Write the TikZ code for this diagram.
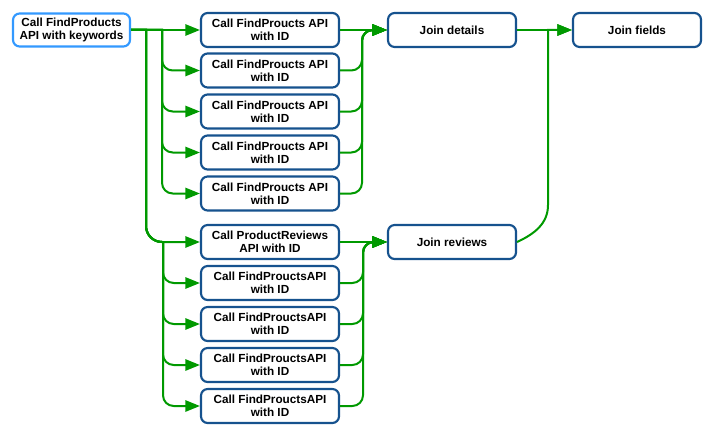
\documentclass[tikz,border=0pt]{standalone}
\usepackage{fontspec}
\setmainfont{Liberation Sans}
\usepackage{tikz}
\usetikzlibrary{arrows.meta}
\definecolor{boxblue}{RGB}{22,82,142}
\definecolor{srcblue}{RGB}{51,153,255}
\definecolor{flowgreen}{RGB}{0,153,0}
\tikzstyle{box}=[draw=boxblue,line width=1.6pt,fill=white,rounded corners=5pt,align=center,minimum width=103.5pt,minimum height=25.5pt,inner sep=1pt,font=\bfseries\fontsize{8.8}{9.75}\selectfont]
\tikzstyle{srcbox}=[box,draw=srcblue,minimum width=87.75pt,minimum height=24.75pt]
\tikzstyle{joinbox}=[box,minimum width=96pt]
\tikzstyle{flow}=[draw=flowgreen,line width=1.5pt,-{Triangle[length=11pt,width=8.5pt]}]
\tikzstyle{curvy}=[rounded corners=8pt]

\begin{document}
\begin{tikzpicture}[x=0.75pt,y=-0.75pt]  % pixel grid, y down

\useasboundingbox (0,0) rectangle (713,435);

\node[srcbox] (src) at (71.5,30) {Call FindProducts\\API with keywords};

\node[box] (c1) at (270,30) {Call FindProucts API\\with ID};
\node[box] (c2) at (270,70.5) {Call FindProucts API\\with ID};
\node[box] (c3) at (270,111.5) {Call FindProucts API\\with ID};
\node[box] (c4) at (270,152.5) {Call FindProucts API\\with ID};
\node[box] (c5) at (270,193.5) {Call FindProucts API\\with ID};

\node[box] (c6) at (270,242) {Call ProductReviews\\API with ID};
\node[box] (c7) at (270,283) {Call FindProuctsAPI\\with ID};
\node[box] (c8) at (270,324) {Call FindProuctsAPI\\with ID};
\node[box] (c9) at (270,365) {Call FindProuctsAPI\\with ID};
\node[box] (c10) at (270,406) {Call FindProuctsAPI\\with ID};

\node[joinbox] (jd) at (452,30) {Join details};
\node[joinbox] (jr) at (452,242) {Join reviews};
\node[joinbox] (jf) at (637,30) {Join fields};

% bus lines
\coordinate (busU) at (162,0);
\coordinate (busL) at (146,0);
\coordinate (busD) at (163,0);
\coordinate (busUR) at (362,0);
\coordinate (busLR) at (363,0);
\coordinate (bendF) at (548,205);

% fan out, details
\draw[flow] (src.east) to (c1.west);
\draw[flow] (src.east) to (src.east -| busU) [curvy] |- (c2.west);
\draw[flow] (src.east) to (src.east -| busU) [curvy] |- (c3.west);
\draw[flow] (src.east) to (src.east -| busU) [curvy] |- (c4.west);
\draw[flow] (src.east) to (src.east -| busU) [curvy] |- (c5.west);

% fan out, reviews
\draw[flow] (src.east) to (src.east -| busL) [rounded corners=12pt] |- (c6.west);
\draw[flow] (src.east) to (src.east -| busL) [rounded corners=12pt] to (busL |- c6.west) [sharp corners] to (busD |- c6.west) [curvy] |- (c7.west);
\draw[flow] (src.east) to (src.east -| busL) [rounded corners=12pt] to (busL |- c6.west) [sharp corners] to (busD |- c6.west) [curvy] |- (c8.west);
\draw[flow] (src.east) to (src.east -| busL) [rounded corners=12pt] to (busL |- c6.west) [sharp corners] to (busD |- c6.west) [curvy] |- (c9.west);
\draw[flow] (src.east) to (src.east -| busL) [rounded corners=12pt] to (busL |- c6.west) [sharp corners] to (busD |- c6.west) [curvy] |- (c10.west);

% fan in
\draw[flow] (c1.east) to (jd.west);
\draw[flow,curvy] (c2.east) -| (busUR |- jd.west) to (jd.west);
\draw[flow,curvy] (c3.east) -| (busUR |- jd.west) to (jd.west);
\draw[flow,curvy] (c4.east) -| (busUR |- jd.west) to (jd.west);
\draw[flow,curvy] (c5.east) -| (busUR |- jd.west) to (jd.west);

\draw[flow] (c6.east) to (jr.west);
\draw[flow,curvy] (c7.east) -| (busLR |- jr.west) to (jr.west);
\draw[flow,curvy] (c8.east) -| (busLR |- jr.west) to (jr.west);
\draw[flow,curvy] (c9.east) -| (busLR |- jr.west) to (jr.west);
\draw[flow,curvy] (c10.east) -| (busLR |- jr.west) to (jr.west);

\draw[flow] (jd.east) to (jf.west);
\draw[flow] (jr.east) to[out=25,in=-90] (bendF) to (bendF |- jf.west) to (jf.west);
\end{tikzpicture}
\end{document}
